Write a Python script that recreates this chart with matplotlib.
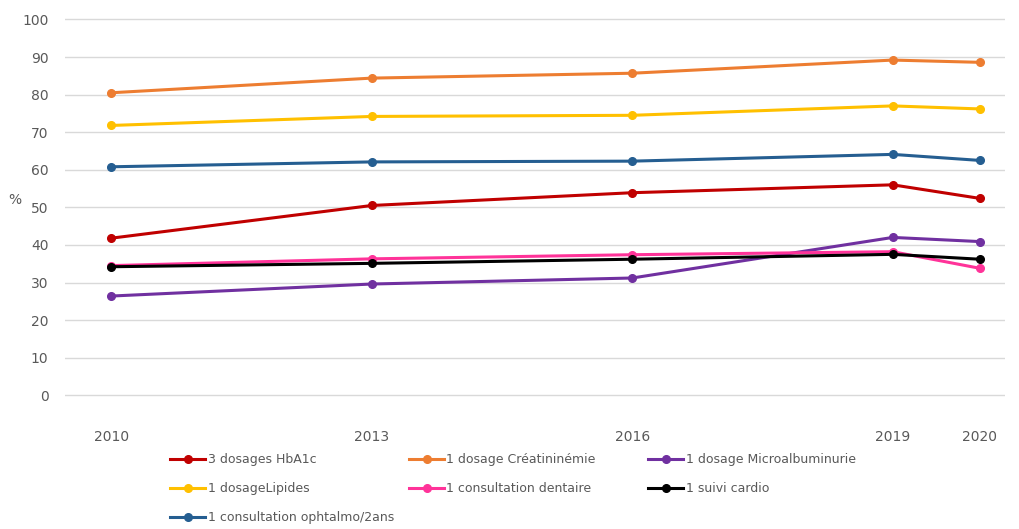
import matplotlib.pyplot as plt

# data
years = [2010, 2013, 2016, 2019, 2020]
hba1c = [41.8, 50.5, 53.9, 56.0, 52.4]
creat = [80.5, 84.4, 85.7, 89.2, 88.6]
microalb = [26.4, 29.6, 31.2, 42.0, 40.9]
lipides = [71.8, 74.2, 74.5, 77.0, 76.2]
dentaire = [34.5, 36.3, 37.4, 38.2, 33.8]
cardio = [34.2, 35.1, 36.2, 37.5, 36.2]
ophtalmo = [60.8, 62.1, 62.3, 64.1, 62.5]

series = [
    ('3 dosages HbA1c', hba1c, '#C00000'),
    ('1 dosage Créatininémie', creat, '#ED7D31'),
    ('1 dosage Microalbuminurie', microalb, '#7030A0'),
    ('1 dosageLipides', lipides, '#FFC000'),
    ('1 consultation dentaire', dentaire, '#FF3399'),
    ('1 suivi cardio', cardio, '#000000'),
    ('1 consultation ophtalmo/2ans', ophtalmo, '#255E91'),
]

fig = plt.figure(figsize=(10.19, 5.29), dpi=100)
ax = fig.add_axes([0.064, 0.25, 0.922, 0.716])

lines = []
for label, vals, col in series:
    ln, = ax.plot(years, vals, color=col, lw=2.2, marker='o', ms=5.5, label=label)
    lines.append(ln)

ax.set_xlim(2009.47, 2020.29)
ax.set_ylim(-0.4, 100.4)
ax.set_yticks(range(0, 101, 10))
ax.set_xticks(years)
ax.grid(axis='y', color='#D9D9D9', lw=1)
ax.set_axisbelow(True)
for s in ax.spines.values():
    s.set_visible(False)
ax.tick_params(axis='both', length=0, colors='#595959', labelsize=10)
ax.tick_params(axis='x', pad=24)
ax.tick_params(axis='y', pad=12)
ax.set_ylabel('%', color='#595959', fontsize=10, rotation=0, labelpad=5)

# legend laid out in rows like Excel, one legend per column
cols = [[0, 3, 6], [1, 4], [2, 5]]
col_x = [170, 409, 648]
for idx, x in zip(cols, col_x):
    leg = fig.legend([lines[i] for i in idx], [series[i][0] for i in idx],
                     loc='upper left', bbox_to_anchor=(x / 1019, 1 - 453 / 529),
                     frameon=False, fontsize=9, labelcolor='#595959',
                     handlelength=2.8, handletextpad=0.2, borderpad=0,
                     borderaxespad=0, labelspacing=1.3)

fig.savefig('out.png', dpi=100)
